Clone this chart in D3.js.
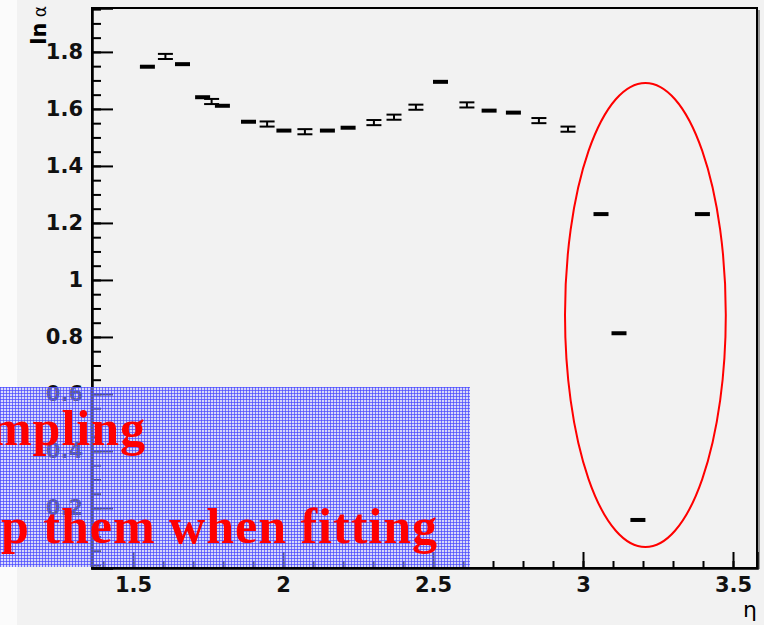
<!DOCTYPE html>
<html>
<head>
<meta charset="utf-8">
<title>ln alpha vs eta</title>
<script src="https://cdn.jsdelivr.net/npm/d3@7/dist/d3.min.js"></script>
<style>
    body { margin: 0; background: #f2f2f2; }
    .tick text { font-family: "DejaVu Sans", sans-serif; font-weight: bold; font-size: 21px; fill: #111; }
    .note { font-family: "Liberation Serif", serif; font-weight: bold; font-size: 50px; letter-spacing: 1px; fill: #ff0000; }
</style>
</head>
<body>
<div id="chart"></div>
<script>
// bin centres (eta), fitted ln(alpha) and its error
const etaBins = [1.548, 1.608, 1.665, 1.732, 1.762, 1.798, 1.885, 1.947, 2.003, 2.073,
                 2.148, 2.217, 2.303, 2.370, 2.443, 2.525, 2.613, 2.687, 2.768, 2.853,
                 2.950, 3.060, 3.120, 3.183, 3.398];
const lnAlpha = [1.748, 1.784, 1.757, 1.641, 1.626, 1.611, 1.555, 1.547, 1.524, 1.520,
                 1.524, 1.534, 1.552, 1.571, 1.606, 1.695, 1.614, 1.594, 1.587, 1.559,
                 1.529, 1.231, 0.813, 0.158, 1.231];
const lnAlphaErr = [0, 0.009, 0, 0, 0.009, 0, 0, 0.009, 0, 0.009,
                    0, 0, 0.009, 0.009, 0.009, 0, 0.009, 0, 0, 0.009,
                    0.009, 0, 0, 0, 0];
const binHalfWidth = 0.025;

const xTicks = [1.5, 2, 2.5, 3, 3.5];
const yTicks = [0.2, 0.4, 0.6, 0.8, 1, 1.2, 1.4, 1.6, 1.8];

// the low-statistics bins circled in red
const outlierRegion = {eta: 3.208, lnA: 0.877, dEta: 0.268, dLnA: 0.814};

const noteLines = ["mpling", "p them when fitting"];

const W = 764, H = 625;
const margin = {top: 8, right: 7, bottom: 57, left: 92};

const svg = d3.select("#chart").append("svg")
    .attr("width", W)
    .attr("height", H);

svg.append("rect").attr("width", W).attr("height", H).attr("fill", "#f2f2f2");
svg.append("rect").attr("width", 17).attr("height", H).attr("fill", "#fbfbfb");

const x = d3.scaleLinear().domain([1.3633, 3.58]).range([margin.left, W - margin.right]);
const y = d3.scaleLinear().domain([-0.0105, 1.954]).range([H - margin.bottom, margin.top]);

// frame (ROOT pad with a slight shadow on the right)
svg.append("line")
    .attr("x1", W - margin.right + 2).attr("x2", W - margin.right + 2)
    .attr("y1", margin.top + 2).attr("y2", H - margin.bottom + 1)
    .attr("stroke", "#999").attr("stroke-width", 2);
svg.append("rect")
    .attr("x", margin.left).attr("y", margin.top)
    .attr("width", W - margin.right - margin.left)
    .attr("height", H - margin.bottom - margin.top)
    .attr("fill", "none").attr("stroke", "#000").attr("stroke-width", 2);

// minor ticks
svg.append("g")
    .attr("transform", `translate(0,${H - margin.bottom})`)
    .call(d3.axisBottom(x).tickValues(d3.range(14, 36).map(d => d / 10)).tickSize(-7).tickFormat(""))
    .call(g => g.select(".domain").remove())
    .call(g => g.selectAll("line").attr("stroke-width", 2));
svg.append("g")
    .attr("transform", `translate(${margin.left},0)`)
    .call(d3.axisLeft(y).tickValues(d3.range(0, 40).map(d => d * 0.05)).tickSize(-9).tickFormat(""))
    .call(g => g.select(".domain").remove())
    .call(g => g.selectAll("line").attr("stroke-width", 2));

// major ticks + labels
svg.append("g")
    .attr("transform", `translate(0,${H - margin.bottom})`)
    .call(d3.axisBottom(x).tickValues(xTicks).tickSize(-16).tickPadding(9).tickFormat(d3.format("")))
    .call(g => g.select(".domain").attr("stroke-width", 2.5))
    .call(g => g.selectAll("line").attr("stroke-width", 2));
svg.append("g")
    .attr("transform", `translate(${margin.left},0)`)
    .call(d3.axisLeft(y).tickValues(yTicks).tickSize(-21).tickPadding(9).tickFormat(d3.format("")))
    .call(g => g.select(".domain").attr("stroke-width", 2.5))
    .call(g => g.selectAll("line").attr("stroke-width", 2));

// axis titles
svg.append("text")
    .attr("x", W - 21).attr("y", H - 8)
    .attr("font-family", "DejaVu Sans").attr("font-size", 22)
    .text("η");
svg.append("text")
    .attr("transform", `translate(46,6) rotate(-90)`)
    .attr("text-anchor", "end")
    .attr("font-family", "DejaVu Sans").attr("font-size", 17)
    .html('<tspan font-weight="bold" font-size="21">ln</tspan> α');

// data
const pts = etaBins.map((e, i) => ({eta: e, v: lnAlpha[i], err: lnAlphaErr[i]}));
const marks = svg.append("g").attr("stroke", "#000");
pts.forEach(p => {
    if (p.err === 0) {
        marks.append("line")
            .attr("x1", x(p.eta - binHalfWidth)).attr("x2", x(p.eta + binHalfWidth))
            .attr("y1", y(p.v)).attr("y2", y(p.v))
            .attr("stroke-width", 4);
    } else {
        [p.v + p.err, p.v - p.err].forEach(v => {
            marks.append("line")
                .attr("x1", x(p.eta - binHalfWidth)).attr("x2", x(p.eta + binHalfWidth))
                .attr("y1", y(v)).attr("y2", y(v))
                .attr("stroke-width", 2);
        });
        marks.append("line")
            .attr("x1", x(p.eta)).attr("x2", x(p.eta))
            .attr("y1", y(p.v + p.err)).attr("y2", y(p.v - p.err))
            .attr("stroke-width", 2);
    }
});

// red ellipse
svg.append("ellipse")
    .attr("cx", x(outlierRegion.eta)).attr("cy", y(outlierRegion.lnA))
    .attr("rx", x(outlierRegion.eta + outlierRegion.dEta) - x(outlierRegion.eta))
    .attr("ry", y(outlierRegion.lnA - outlierRegion.dLnA) - y(outlierRegion.lnA))
    .attr("fill", "none").attr("stroke", "#ff0000").attr("stroke-width", 2);

// hatched blue box with red note
const defs = svg.append("defs");
const pat = defs.append("pattern").attr("id", "blueGrid")
    .attr("width", 3).attr("height", 3).attr("patternUnits", "userSpaceOnUse");
pat.append("rect").attr("width", 3).attr("height", 3).attr("fill", "rgba(185,185,255,0.5)");
pat.append("rect").attr("width", 3).attr("height", 1).attr("fill", "rgba(70,70,255,0.7)");
pat.append("rect").attr("width", 1).attr("height", 3).attr("fill", "rgba(70,70,255,0.7)");

svg.append("rect")
    .attr("x", 0).attr("y", 387).attr("width", 470).attr("height", 180)
    .attr("fill", "url(#blueGrid)");

svg.append("text").attr("class", "note")
    .attr("x", 146).attr("y", 445).attr("text-anchor", "end").text(noteLines[0]);
svg.append("text").attr("class", "note")
    .attr("x", 438).attr("y", 543).attr("text-anchor", "end").text(noteLines[1]);
</script>
</body>
</html>
